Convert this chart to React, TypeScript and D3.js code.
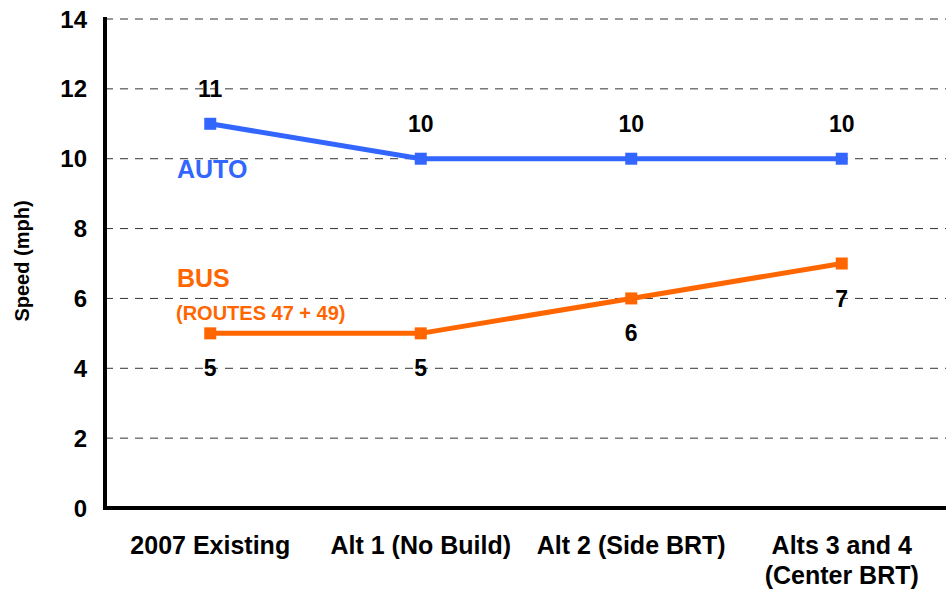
import React from "react";
import * as d3 from "d3";

const categories = ["2007 Existing", "Alt 1 (No Build)", "Alt 2 (Side BRT)", "Alts 3 and 4\n(Center BRT)"];
const autoValues = [11, 10, 10, 10];
const busValues = [5, 5, 6, 7];
const yTicks = [0, 2, 4, 6, 8, 10, 12, 14];

const W = 946, H = 593;
const left = 105, right = 947, top = 19, bottom = 508;
const BLUE = "#3366ff";
const ORANGE = "#ff6600";
const FONT = "'Liberation Sans', Arial, sans-serif";

export default function App() {
  const x = d3.scaleBand<string>().domain(categories).range([left, right]);
  const y = d3.scaleLinear().domain([0, 14]).range([bottom, top]);
  const cx = (c: string) => (x(c) as number) + x.bandwidth() / 2;
  const line = d3.line<number>().x((_, i) => cx(categories[i])).y((d) => y(d));

  return (
    <svg width={W} height={H} style={{ position: "absolute", left: 0, top: 0, background: "#fff" }} fontFamily={FONT}>
      {yTicks.filter((t) => t > 0).map((t) => (
        <line key={t} x1={left} x2={W} y1={y(t)} y2={y(t)} stroke="#333" strokeWidth={1} strokeDasharray="8,7" />
      ))}
      {yTicks.map((t) => (
        <text key={t} x={87} y={y(t)} dy="0.36em" textAnchor="end" fontSize={24} fontWeight="bold" fill="#000">{t}</text>
      ))}
      <line x1={left} x2={left} y1={top - 2} y2={bottom + 2} stroke="#000" strokeWidth={4} />
      <line x1={left - 2} x2={W} y1={bottom} y2={bottom} stroke="#000" strokeWidth={4} />
      <text transform={`translate(29,261) rotate(-90)`} textAnchor="middle" fontSize={20} fontWeight="bold">Speed (mph)</text>
      {categories.map((c) => {
        const lines = c.split("\n");
        return (
          <text key={c} x={cx(c)} y={554} textAnchor="middle" fontSize={25} fontWeight="bold">
            {lines.map((l, i) => (
              <tspan key={i} x={cx(c)} dy={i === 0 ? 0 : 30}>{l}</tspan>
            ))}
          </text>
        );
      })}
      <path d={line(autoValues) || ""} fill="none" stroke={BLUE} strokeWidth={5} />
      <path d={line(busValues) || ""} fill="none" stroke={ORANGE} strokeWidth={5} />
      {autoValues.map((v, i) => (
        <rect key={"a" + i} x={cx(categories[i]) - 6} y={y(v) - 6} width={12} height={12} fill={BLUE} />
      ))}
      {busValues.map((v, i) => (
        <rect key={"b" + i} x={cx(categories[i]) - 6} y={y(v) - 6} width={12} height={12} fill={ORANGE} />
      ))}
      {autoValues.map((v, i) => (
        <text key={"al" + i} x={cx(categories[i])} y={y(v) - 27} textAnchor="middle" fontSize={23} fontWeight="bold">{v}</text>
      ))}
      {busValues.map((v, i) => (
        <text key={"bl" + i} x={cx(categories[i])} y={y(v) + 43} textAnchor="middle" fontSize={23} fontWeight="bold">{v}</text>
      ))}
      <text x={177} y={178} fontSize={25} fontWeight="bold" fill={BLUE}>AUTO</text>
      <text x={177} y={287} fontSize={25} fontWeight="bold" fill={ORANGE}>BUS</text>
      <text x={176} y={320} fontSize={20} fontWeight="bold" fill={ORANGE}>(ROUTES 47 + 49)</text>
    </svg>
  );
}
